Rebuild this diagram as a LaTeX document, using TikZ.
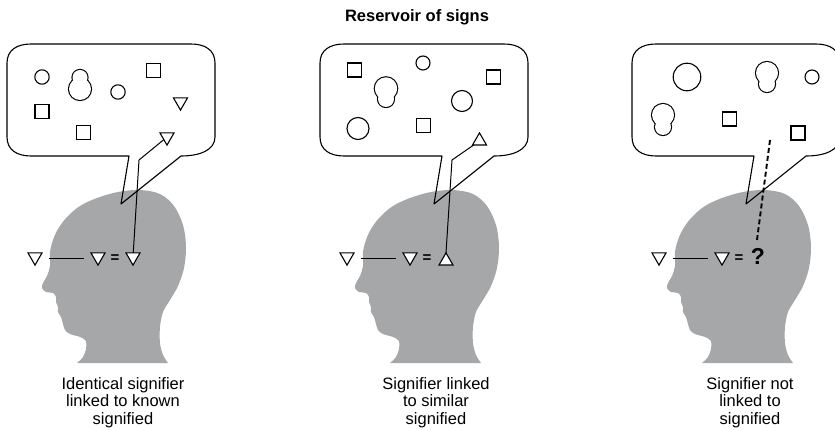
\documentclass[tikz,border=0pt]{standalone}
\usepackage{fontspec}
\setmainfont{Liberation Sans}
\usetikzlibrary{shapes.geometric}
\definecolor{headgray}{RGB}{166,167,169}
\tikzset{
  outline/.style={line width=1.1pt, line join=round},
  tri/.style={regular polygon, regular polygon sides=3, minimum size=16.2pt,
    inner sep=0pt, outer sep=0pt, draw, line width=1.1pt, fill=white},
  tridown/.style={tri, shape border rotate=180},
  sq/.style={draw, line width=1.1pt, minimum size=14pt, inner sep=0pt, outer sep=0pt},
  link/.style={line width=1pt},
  nolink/.style={line width=1.9pt, dash pattern=on 5pt off 3pt},
  caption/.style={align=center, anchor=base, font=\fontsize{16.5}{17.5}\selectfont},
  eqsign/.style={font=\bfseries\fontsize{15}{15}\selectfont, inner sep=0pt},
  qmark/.style={font=\bfseries\fontsize{23}{23}\selectfont, inner sep=0pt}
}
% profile of a head, local coordinates
\newcommand{\headshape}{%
  \fill[headgray] plot[smooth, tension=0.55] coordinates {(77,363) (83,357) (86,349)
    (86,341) (80,337) (70,334) (65,330) (63,324) (61,317) (58,312) (58,307) (56,302)
    (56,297) (53,293) (46,292) (42,288) (43,283) (47,276) (50,266) (50,252) (53,240)
    (58,229) (67,217) (80,206) (97,198) (118,192) (140,190) (160,194) (174,206)
    (183,225) (186,247) (184,268) (178,286) (170,300) (163,312) (160,327) (160,343)
    (163,355) (168,363)} -- cycle;}
% speech bubble with its tail, local coordinates
\newcommand{\bubble}{%
  \draw[outline] (129,156) -- (121,204) -- (181,156)
    .. controls (200,156) and (215,150) .. (215,137) -- (215,63)
    .. controls (215,50) and (205,44) .. (191,44) -- (31,44)
    .. controls (17,44) and (7,50) .. (7,63) -- (7,137)
    .. controls (7,150) and (17,156) .. (31,156) -- cycle;}
% peanut: union of two circles
\newcommand{\peanut}[5]{%
  \draw[line width=2.2pt] (#1,#2) circle[radius=#3] (#1,#4) circle[radius=#5];
  \fill[white] (#1,#2) circle[radius=#3] (#1,#4) circle[radius=#5];}
\begin{document}
\begin{tikzpicture}[x=1pt, y=-1pt]
\useasboundingbox (0,0) rectangle (835,430);
\clip (0,0) rectangle (835,430);

\node[font=\bfseries\fontsize{16.5}{16.5}\selectfont, anchor=base] (title) at (417,21.5) {Reservoir of signs};

% ---------- identical signifier ----------
\begin{scope}
  \headshape
  \bubble
  \draw[outline] (42,77) circle[radius=7.2];
  \draw[outline] (118,92) circle[radius=7.2];
  \peanut{80}{77.5}{7.5}{89}{11}
  \node[sq] (a-q1) at (153.5,70.5) {};
  \node[sq] (a-q2) at (42,111.5) {};
  \node[sq] (a-q3) at (83.5,132.5) {};
  \node[tridown] (a-s1) at (180.5,102) {};
  \node[tridown] (a-s2) at (167,137) {};
  \node[tridown] (a-e1) at (35,257) {};
  \node[tridown] (a-e2) at (98,257) {};
  \node[eqsign] (a-eq) at (115,259) {=};
  \node[tridown] (a-e3) at (133,257) {};
  \draw[link] (49,259) coordinate (a-l1) -- (84,259) coordinate (a-l2);
  \coordinate (a-k) at (139,160);
  \draw[link] (a-s2) -- (a-k) -- (a-e3);
  \node[caption] (a-cap) at (123,424) {Identical signifier\\linked to known\\signified};
\end{scope}

% ---------- similar signifier ----------
\begin{scope}[shift={(313,0)}]
  \headshape
  \bubble
  \draw[outline] (110,63) circle[radius=7];
  \draw[outline] (149,101) circle[radius=10.5];
  \draw[outline] (45,128.5) circle[radius=11];
  \peanut{73}{88.5}{11.2}{99}{8}
  \node[sq] (b-q1) at (41.5,70) {};
  \node[sq] (b-q2) at (180.5,77) {};
  \node[sq] (b-q3) at (110.5,125.5) {};
  \node[tri] (b-s1) at (166.5,141) {};
  \node[tridown] (b-e1) at (34,257) {};
  \node[tridown] (b-e2) at (97,257) {};
  \node[eqsign] (b-eq) at (114,259) {=};
  \node[tri] (b-e3) at (133,261) {};
  \draw[link] (48,259) coordinate (b-l1) -- (83,259) coordinate (b-l2);
  \coordinate (b-k) at (139,160);
  \draw[link] (b-s1) -- (b-k) -- (b-e3.north);
  \node[caption] (b-cap) at (123,424) {Signifier linked\\to similar\\signified};
\end{scope}

% ---------- no link ----------
\begin{scope}[shift={(625,0)}]
  \headshape
  \bubble
  \draw[outline] (62,77) circle[radius=13.8];
  \draw[outline] (187,77) circle[radius=7];
  \peanut{142}{73}{11}{84}{8}
  \peanut{38}{115}{11}{127}{8}
  \node[sq] (c-q1) at (104.5,119) {};
  \node[sq] (c-q2) at (173,133) {};
  \node[tridown] (c-e1) at (34,257) {};
  \node[tridown] (c-e2) at (97,257) {};
  \node[eqsign] (c-eq) at (114,259) {=};
  \node[qmark] (c-q) at (133,256) {?};
  \draw[link] (48,259) coordinate (c-l1) -- (83,259) coordinate (c-l2);
  \coordinate (c-d1) at (145,140);
  \coordinate (c-d2) at (132,240);
  \draw[nolink] (c-d1) -- (c-d2);
  \node[caption] (c-cap) at (125,424) {Signifier not\\linked to\\signified};
\end{scope}
\end{tikzpicture}
\end{document}
